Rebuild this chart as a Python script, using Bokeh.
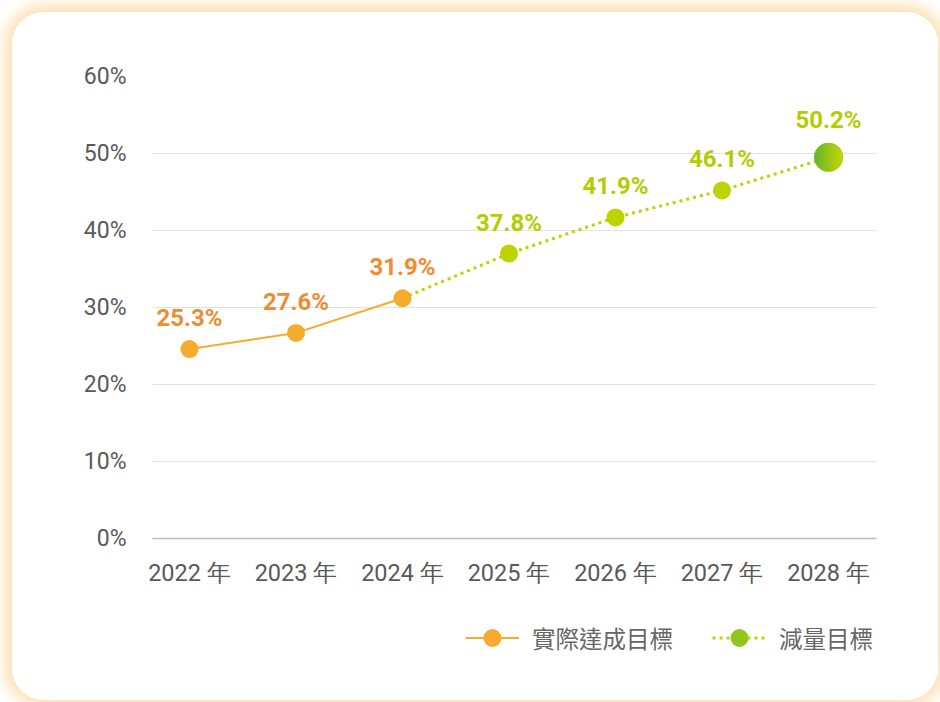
import numpy as np
from bokeh.plotting import figure
from bokeh.models import (Range1d, FixedTicker, PrintfTickFormatter, ColumnDataSource,
                          Legend, LegendItem)
from bokeh.core.properties import value
from bokeh.embed import file_html
from bokeh.resources import INLINE

# ---------------- data ----------------
years = ["2022 年", "2023 年", "2024 年", "2025 年", "2026 年", "2027 年", "2028 年"]
actual_years = ["2022 年", "2023 年", "2024 年"]
actual_vals = [24.6, 26.7, 31.2]
actual_labels = ["25.3%", "27.6%", "31.9%"]
target_years = ["2024 年", "2025 年", "2026 年", "2027 年", "2028 年"]
target_vals = [31.2, 37.0, 41.7, 45.2, 49.5]
target_labels = ["", "37.8%", "41.9%", "46.1%", "50.2%"]
y_ticks = [0, 10, 20, 30, 40, 50, 60]
series_names = ["實際達成目標", "減量目標"]

ORANGE = "#f6ab2f"
ORANGE_TXT = "#ef8b30"
GREEN = "#bdd300"
GREEN_TXT = "#b4cc00"
GREEN_MID = "#93c51f"

xi = {y: i for i, y in enumerate(years)}

W, H = 926, 688
LB, RB, TB, BB = 128, 48, 64, 45
x0, x1 = -0.4601, 6.5822          # frame extent (wider than the drawn grid)
gx0, gx1 = -0.3474, 6.4507        # extent of grid lines / axis line
PX_PER_PCT = 7.7                  # 462 px for 0..60 %
y_top = 60
y0 = -((H - BB) - (TB + y_top * PX_PER_PCT)) / PX_PER_PCT   # room below 0 % for labels & legend

p = figure(width=W, height=H, output_backend="svg", toolbar_location=None, title=None,
           x_range=Range1d(x0, x1), y_range=Range1d(y0, y_top),
           min_border_left=LB, min_border_right=RB, min_border_top=TB, min_border_bottom=BB,
           background_fill_color="white", border_fill_color="white",
           outline_line_color=None, margin=(12, 0, 0, 12),
           styles={"border-radius": "32px", "overflow": "hidden",
                   "box-shadow": "0 0 14px 8px #fde2b8"})

# axes
p.xaxis.ticker = FixedTicker(ticks=list(range(len(years))))
p.xaxis.major_label_overrides = {i: y for i, y in enumerate(years)}
p.xaxis.fixed_location = 0
p.xaxis.bounds = (gx0, gx1)
p.yaxis.ticker = FixedTicker(ticks=y_ticks)
p.yaxis.formatter = PrintfTickFormatter(format="%d%%")
for ax in (p.xaxis, p.yaxis):
    ax.major_tick_line_color = None
    ax.minor_tick_line_color = None
    ax.major_label_text_font = "Roboto"
    ax.major_label_text_font_size = "23px"
    ax.major_label_text_color = "#595959"
p.xaxis.major_label_text_font_size = "23.5px"
p.yaxis.axis_line_color = None
p.yaxis.major_label_standoff = 8
p.xaxis.axis_line_color = "#bdbdbd"
p.xaxis.axis_line_width = 1.5
p.xaxis.major_label_standoff = 14
p.xgrid.grid_line_color = None
p.ygrid.grid_line_color = "#e2e2e2"
p.ygrid.grid_line_width = 1
p.ygrid.bounds = (1, y_top)
p.ygrid.cross_bounds = (gx0, gx1)

# target (dotted) line
t_src = ColumnDataSource(dict(x=[xi[y] for y in target_years], y=target_vals, lab=target_labels))
g_line = p.line("x", "y", source=t_src, line_color=GREEN, line_width=3, line_dash="3 4")

# actual line
a_src = ColumnDataSource(dict(x=[xi[y] for y in actual_years], y=actual_vals, lab=actual_labels))
o_line = p.line("x", "y", source=a_src, line_color=ORANGE, line_width=2)

# target markers (small ones), last one big
mid_src = ColumnDataSource(dict(x=[xi[y] for y in target_years[1:-1]], y=target_vals[1:-1],
                                lab=target_labels[1:-1]))
last_src = ColumnDataSource(dict(x=[xi[target_years[-1]]], y=[target_vals[-1]], lab=[target_labels[-1]]))
p.scatter("x", "y", source=mid_src, size=18, fill_color=GREEN, line_color=None)
big = p.scatter("x", "y", source=last_src, size=29, fill_color=GREEN_MID, line_color=None)

# gradient overlay on the big marker
N = 64
d_px = 28.0
fw = W - LB - RB
dw = d_px / (fw / (x1 - x0))
dh = d_px / PX_PER_PCT
yy, xx = np.mgrid[0:N, 0:N]
cx = (N - 1) / 2.0
r = np.sqrt((xx - cx) ** 2 + (yy - cx) ** 2)
alpha = np.clip((N / 2.0 - 0.5) - r + 1.0, 0, 1)
t = xx / (N - 1)
c0 = np.array([0x66, 0xb6, 0x2e])
c1 = np.array([0xc6, 0xd7, 0x00])
img = np.zeros((N, N, 4), dtype=np.uint8)
for k in range(3):
    img[..., k] = (c0[k] + (c1[k] - c0[k]) * t).astype(np.uint8)
img[..., 3] = (alpha * 255).astype(np.uint8)
img32 = img.view(dtype=np.uint32).reshape((N, N))
p.image_rgba(image=[img32], x=[xi[target_years[-1]] - dw / 2], y=[target_vals[-1] - dh / 2],
             dw=[dw], dh=[dh])

# actual markers
o_mk = p.scatter("x", "y", source=a_src, size=18, fill_color=ORANGE, line_color=None)

# labels
lab_kw = dict(text="lab", text_align="center", text_baseline="alphabetic",
              text_font=value("Roboto"), text_font_style="bold", text_font_size="24px")
p.text("x", "y", source=a_src, text_color=ORANGE_TXT, y_offset=-31, **lab_kw)
p.text("x", "y", source=mid_src, text_color=GREEN_TXT, y_offset=-31, **lab_kw)
p.text("x", "y", source=last_src, text_color=GREEN_TXT, y_offset=-37, **lab_kw)

legend = Legend(items=[LegendItem(label=series_names[0], renderers=[o_line, o_mk]),
                       LegendItem(label=series_names[1], renderers=[g_line, big])],
                location=(325, -5), orientation="horizontal",
                glyph_width=54, glyph_height=45, label_standoff=13, spacing=39,
                padding=0, margin=0, border_line_alpha=0, background_fill_alpha=0,
                label_text_font="Noto Sans CJK TC", label_text_font_size="23.5px",
                label_text_color="#666666")
p.add_layout(legend, "center")

open("out.html", "w").write(file_html(p, INLINE))
